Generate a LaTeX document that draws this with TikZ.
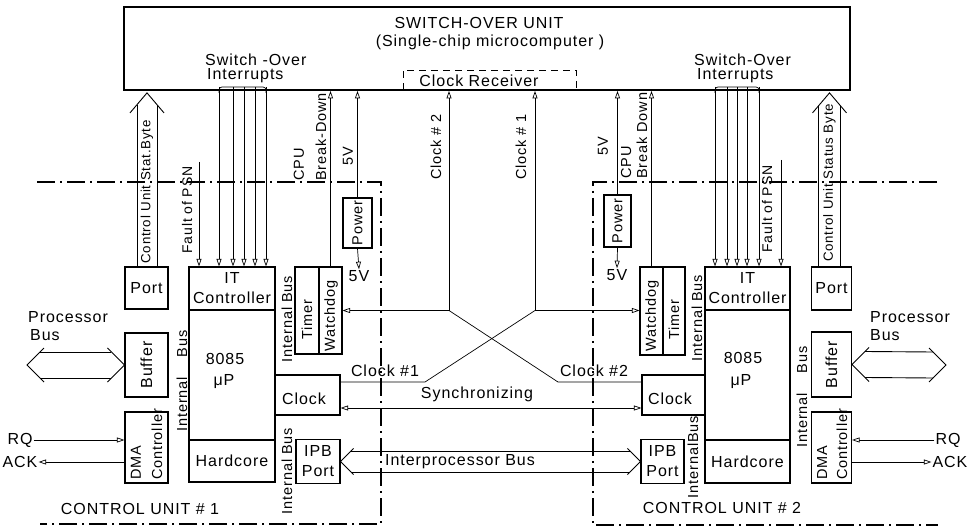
\documentclass[tikz,border=0pt]{standalone}
\usepackage{fontspec}
\setmainfont[LetterSpace=6]{Liberation Sans}
\usetikzlibrary{arrows.meta,calc}
\begin{document}
\begin{tikzpicture}[x=1pt,y=-1pt,
  >={Triangle[open,length=7.5pt,width=5pt]},
  box/.style={draw,line width=1.1pt,inner sep=0pt},
  sig/.style={line width=0.7pt},
  bl/.style={line width=0.9pt},
  dd/.style={line width=1.5pt,dash pattern=on 18pt off 5pt on 2pt off 5pt},
  txt/.style={font=\fontsize{16}{20}\selectfont,inner sep=1pt,align=center},
  rtxt/.style={font=\fontsize{14.5}{17}\selectfont,inner sep=1pt,rotate=90},
  atxt/.style={font=\fontsize{13.3}{16}\selectfont,inner sep=0pt,rotate=90},
]
\fill[white] (0,0) rectangle (971,529);
\useasboundingbox (0,0) rectangle (971,529);

% ---------- switch-over unit ----------
\node[box,line width=1.8pt,minimum width=726pt,minimum height=83pt] (swu) at (487,48.5) {};
\node[txt] (swt) at (479,23) {SWITCH-OVER UNIT};
\node[txt] (swt2) at (490,42) {(Single-chip microcomputer )};
\draw[sig,dash pattern=on 7pt off 5pt] (403,90) -- (403,70) -- (576,70) -- (576,90);
\node[txt] (crx) at (479,81) {Clock Receiver};
\node[txt,anchor=west] (soi1a) at (204,60) {Switch -Over};
\node[txt,anchor=west] (soi1b) at (206,76) {Interrupts};
\node[txt,anchor=west] (soi2a) at (693,60) {Switch-Over};
\node[txt,anchor=west] (soi2b) at (696,76) {Interrupts};

% ---------- control unit boundaries ----------
\draw[dd] (37,182) -- (381,182) -- (381,524) -- (40,524);
\draw[dd] (937,182) -- (593,182) -- (593,525) -- (938,525);
\node[txt] (cu1) at (140,509) {CONTROL UNIT \# 1};
\node[txt] (cu2) at (722,508) {CONTROL UNIT \# 2};

% ---------- left unit boxes ----------
\node[box,minimum width=43pt,minimum height=42pt] (port1) at (146.5,288) {};
\node[txt] (port1t) at (port1.center) {Port};
\node[box,minimum width=43pt,minimum height=64pt] (buf1) at (146.5,365) {};
\node[rtxt,font=\fontsize{16}{19}\selectfont] (buf1t) at (buf1.center) {Buffer};
\node[box,minimum width=43pt,minimum height=71pt] (dma1) at (146.5,447.5) {};
\node[rtxt,anchor=west] (dma1a) at (136,481) {DMA};
\node[rtxt,anchor=west] (dma1b) at (157,481) {Controller};
\node[box,minimum width=86pt,minimum height=43pt] (itc1) at (232,288.5) {};
\node[txt] (itc1t) at (itc1.center) {IT\\Controller};
\node[box,minimum width=86pt,minimum height=130pt] (up1) at (232,375) {};
\node[txt] (up1a) at (225,359) {8085};
\node[txt] (up1b) at (224,382) {μP};
\node[box,minimum width=86pt,minimum height=42pt] (hc1) at (232,461) {};
\node[txt] (hc1t) at (hc1.center) {Hardcore};
\node[box,minimum width=24pt,minimum height=87pt] (tm1) at (307,310.5) {};
\node[rtxt] (tm1t) at (307,320) {Timer};
\node[box,minimum width=23pt,minimum height=87pt] (wd1) at (330.5,310.5) {};
\node[rtxt] (wd1t) at (331,316) {Watchdog};
\node[box,minimum width=29pt,minimum height=50pt] (pow1) at (357.5,223) {};
\node[rtxt] (pow1t) at (pow1.center) {Power};
\node[box,minimum width=65pt,minimum height=40pt] (clk1) at (307.5,395) {};
\node[txt] (clk1t) at (304,399) {Clock};
\node[box,minimum width=44pt,minimum height=44pt] (ipb1) at (318,461.5) {};
\node[txt] (ipb1t) at (ipb1.center) {IPB\\Port};

% ---------- right unit boxes ----------
\node[box,minimum width=40pt,minimum height=43pt] (port2) at (831.5,288.5) {};
\node[txt] (port2t) at (port2.center) {Port};
\node[box,minimum width=40pt,minimum height=65pt] (buf2) at (831.5,364.5) {};
\node[rtxt,font=\fontsize{16}{19}\selectfont] (buf2t) at (buf2.center) {Buffer};
\node[box,minimum width=40pt,minimum height=71pt] (dma2) at (831.5,447.5) {};
\node[rtxt,anchor=west] (dma2a) at (822,481) {DMA};
\node[rtxt,anchor=west] (dma2b) at (842,481) {Controller};
\node[box,minimum width=85pt,minimum height=43pt] (itc2) at (747.5,288.5) {};
\node[txt] (itc2t) at (itc2.center) {IT\\Controller};
\node[box,minimum width=85pt,minimum height=130pt] (up2) at (747.5,375) {};
\node[txt] (up2a) at (743,358) {8085};
\node[txt] (up2b) at (741,382) {μP};
\node[box,minimum width=85pt,minimum height=43pt] (hc2) at (747.5,461.5) {};
\node[txt] (hc2t) at (hc2.center) {Hardcore};
\node[box,minimum width=23pt,minimum height=88pt] (wd2) at (651.5,311) {};
\node[rtxt] (wd2t) at (652,316) {Watchdog};
\node[box,minimum width=22pt,minimum height=88pt] (tm2) at (674,311) {};
\node[rtxt] (tm2t) at (674,320) {Timer};
\node[box,minimum width=27pt,minimum height=52pt] (pow2) at (617.5,221) {};
\node[rtxt] (pow2t) at (pow2.center) {Power};
\node[box,minimum width=63pt,minimum height=40pt] (clk2) at (673.5,395) {};
\node[txt] (clk2t) at (670,399) {Clock};
\node[box,minimum width=43pt,minimum height=44pt] (ipb2) at (662.5,461.5) {};
\node[txt] (ipb2t) at (ipb2.center) {IPB\\Port};

% ---------- internal bus labels ----------
\node[rtxt] (ib1) at (182,381) {Internal\hspace{20pt}Bus};
\node[rtxt] (ib2) at (287,319) {Internal Bus};
\node[rtxt] (ib3) at (287,471) {Internal Bus};
\node[rtxt] (ib4) at (697,318) {Internal Bus};
\node[rtxt] (ib5) at (693,457) {InternalBus};
\node[rtxt] (ib6) at (802,397) {Internal\hspace{20pt}Bus};

% ---------- interrupts ----------
\draw[sig,rounded corners=3pt] (219,93) -- (219,87) -- (266,87) -- (266,93);
\foreach \x [count=\i] in {219,233,244,255,266} {
  \coordinate (ia\i) at (\x,87);
  \draw[sig,->] (ia\i) -- (ia\i |- itc1.north);
}
\coordinate (fa1) at (199,162);
\draw[sig,->] (fa1) -- (fa1 |- itc1.north);
\node[atxt,font=\fontsize{14}{16}\selectfont] (fa1t) at (187,210) {Fault of PSN};

\draw[sig,rounded corners=3pt] (715,93) -- (715,87) -- (759,87) -- (759,93);
\foreach \x [count=\i] in {715,727,737,747,759} {
  \coordinate (ib\i) at (\x,87);
  \draw[sig,->] (ib\i) -- (ib\i |- itc2.north);
}
\coordinate (fa2) at (781,160);
\draw[sig,->] (fa2) -- (fa2 |- itc2.north);
\node[atxt,font=\fontsize{14}{16}\selectfont] (fa2t) at (767,209) {Fault of PSN};

% ---------- CPU break-down and power ----------
\draw[sig,->] (wd1.north) -- (wd1.north |- swu.south);
\node[rtxt,anchor=west] (cpu1a) at (299,182) {CPU};
\node[rtxt,anchor=west] (cpu1b) at (321,182) {Break-Down};
\draw[sig,->] (pow1.north) -- (pow1.north |- swu.south);
\node[rtxt] (v1a) at (348,156) {5V};
\node[txt] (v1b) at (359,276) {5V};
\draw[sig,->] (pow1.south) -- (v1b.north);

\draw[sig,->] (wd2.north) -- (wd2.north |- swu.south);
\node[rtxt,anchor=west] (cpu2a) at (626,180) {CPU};
\node[rtxt,anchor=west] (cpu2b) at (642,180) {Break Down};
\draw[sig,->] (pow2.north) -- (pow2.north |- swu.south);
\node[rtxt] (v2a) at (603,146) {5V};
\node[txt] (v2b) at (617,275) {5V};
\draw[sig,->] (pow2.south) -- (v2b.north);

% ---------- clocks ----------
\coordinate (j2) at (449,310.5);
\coordinate (j1) at (535,310.5);
\coordinate (b1) at (425,382);
\coordinate (b2) at (558,382);
\draw[sig,->] (j2) -- (j2 |- swu.south);
\draw[sig,->] (j2) -- (wd1.east |- j2);
\draw[sig] (j2) -- (b2) -- (b2 -| clk2.west);
\draw[sig,->] (j1) -- (j1 |- swu.south);
\draw[sig,->] (j1) -- (wd2.west |- j1);
\draw[sig] (j1) -- (b1) -- (b1 -| clk1.east);
\node[rtxt] (c2v) at (436,147) {Clock \# 2};
\node[rtxt] (c1v) at (521,147) {Clock \# 1};
\node[txt] (c1h) at (385,371) {Clock \#1};
\node[txt] (c2h) at (594,371) {Clock \#2};

\coordinate (sy) at (490,408);
\draw[sig,<->] (sy -| clk1.east) -- (sy -| clk2.west);
\node[txt] (syt) at (477,394) {Synchronizing};

% ---------- interprocessor bus ----------
\draw[bl] ($(ipb1.east)+(13,-13)$) -- (ipb1.east) -- ($(ipb1.east)+(13,13)$);
\draw[bl] ($(ipb2.west)+(-13,-13)$) -- (ipb2.west) -- ($(ipb2.west)+(-13,13)$);
\draw[bl] ($(ipb1.east)+(10.5,-10.5)$) -- ($(ipb2.west)+(-10.5,-10.5)$);
\draw[bl] ($(ipb1.east)+(10.5,10.5)$) -- ($(ipb2.west)+(-10.5,10.5)$);
\node[txt] (ipbt) at (460,461.5) {Interprocessor Bus};

% ---------- processor buses ----------
\coordinate (pb1) at (27,365);
\draw[bl] ($(pb1)+(17,-17)$) -- (pb1) -- ($(pb1)+(17,17)$);
\draw[bl] ($(buf1.west)+(-17,-17)$) -- (buf1.west) -- ($(buf1.west)+(-17,17)$);
\draw[bl] ($(pb1)+(13,-13)$) -- ($(buf1.west)+(-13,-13)$);
\draw[bl] ($(pb1)+(13,13)$) -- ($(buf1.west)+(-13,13)$);
\node[txt,anchor=west] (pb1a) at (27,317) {Processor};
\node[txt,anchor=west] (pb1b) at (29,335) {Bus};

\coordinate (pb2) at (946,365);
\draw[bl] ($(pb2)+(-17,-17)$) -- (pb2) -- ($(pb2)+(-17,17)$);
\draw[bl] ($(buf2.east)+(17,-17)$) -- (buf2.east) -- ($(buf2.east)+(17,17)$);
\draw[bl] ($(pb2)+(-13,-13)$) -- ($(buf2.east)+(13,-13)$);
\draw[bl] ($(pb2)+(-13,13)$) -- ($(buf2.east)+(13,13)$);
\node[txt,anchor=west] (pb2a) at (869,317) {Processor};
\node[txt,anchor=west] (pb2b) at (869,335) {Bus};

% ---------- RQ / ACK ----------
\node[txt] (rq1) at (20,440) {RQ};
\node[txt] (ack1) at (20,462) {ACK};
\draw[sig,->] (rq1.east) -- (rq1.east -| dma1.west);
\draw[sig,->] (ack1.east -| dma1.west) -- (ack1.east);
\node[txt] (rq2) at (948,440) {RQ};
\node[txt] (ack2) at (950,462) {ACK};
\draw[sig,->] (rq2.west) -- (rq2.west -| dma2.east);
\draw[sig,->] (ack2.west -| dma2.east) -- (ack2.west);

% ---------- control unit status byte arrows ----------
\coordinate (ta1) at ($(port1.north |- swu.south)+(0.5,2)$);
\draw[bl] ($(ta1)+(-17,20)$) -- (ta1) -- ($(ta1)+(17,20)$);
\draw[bl] ($(ta1)+(-10,12)$) -- ($(ta1 |- port1.north)+(-10,0)$);
\draw[bl] ($(ta1)+(10,12)$) -- ($(ta1 |- port1.north)+(10,0)$);
\node[atxt] (cs1) at (147,192) {Control Unit Stat.Byte};

\coordinate (ta2) at ($(port2.north |- swu.south)+(-2,2)$);
\draw[bl] ($(ta2)+(-17,20)$) -- (ta2) -- ($(ta2)+(17,20)$);
\draw[bl] ($(ta2)+(-11,13)$) -- ($(ta2 |- port2.north)+(-11,0)$);
\draw[bl] ($(ta2)+(11,13)$) -- ($(ta2 |- port2.north)+(11,0)$);
\node[atxt] (cs2) at (829.5,183) {Control Unit Status Byte};
\end{tikzpicture}
\end{document}
